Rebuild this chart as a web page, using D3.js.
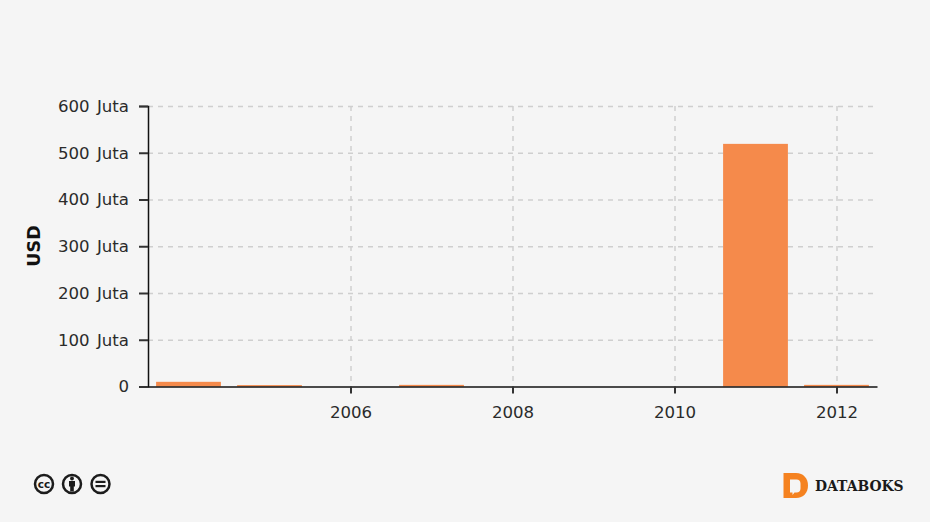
<!DOCTYPE html>
<html>
<head>
<meta charset="utf-8">
<script src="https://cdn.jsdelivr.net/npm/d3@7"></script>
<style>
  html, body { margin: 0; padding: 0; background: #f5f5f5; }
  svg { display: block; }
  text { font-family: "DejaVu Sans", sans-serif; }
</style>
</head>
<body>
<svg width="930" height="522"></svg>
<script>
// values, in million USD
var years = [2004, 2005, 2006, 2007, 2008, 2009, 2010, 2011, 2012];
var values = [10, 3, 0, 3.5, 0, 0, 0, 519, 3.5];
var yTicks = [0, 100, 200, 300, 400, 500, 600];
var xTicks = [2006, 2008, 2010, 2012];

var svg = d3.select("svg");
var margin = { top: 106, right: 53, bottom: 135.5, left: 148 };
var width = +svg.attr("width") - margin.left - margin.right;
var height = +svg.attr("height") - margin.top - margin.bottom;

var x = d3.scaleLinear().domain([2003.5, 2012.5]).range([0, width]);
var y = d3.scaleLinear().domain([0, 600]).range([height, 0]);

var g = svg.append("g").attr("transform", "translate(" + margin.left + "," + margin.top + ")");

// dashed grid, stops a little short of the axis end
g.append("g").selectAll("line").data(yTicks.slice(1)).enter().append("line")
  .attr("x1", 0).attr("x2", width - 4)
  .attr("y1", function(d) { return y(d) + 0.5; }).attr("y2", function(d) { return y(d) + 0.5; })
  .attr("stroke", "#cfcfcf").attr("stroke-width", 1.5).attr("stroke-dasharray", "5,5");

g.append("g").selectAll("line").data(xTicks).enter().append("line")
  .attr("x1", function(d) { return x(d) + 0.5; }).attr("x2", function(d) { return x(d) + 0.5; })
  .attr("y1", 0).attr("y2", height)
  .attr("stroke", "#cfcfcf").attr("stroke-width", 1.5).attr("stroke-dasharray", "5,5");

// bars
var barWidth = (x(2005) - x(2004)) * 0.8;
g.append("g").selectAll("rect").data(values).enter().append("rect")
  .attr("x", function(d, i) { return x(years[i]) - barWidth / 2; })
  .attr("y", function(d) { return y(d); })
  .attr("width", barWidth)
  .attr("height", function(d) { return height - y(d); })
  .attr("fill", "#f58a4b");

// axes
var yAxis = d3.axisLeft(y).tickValues(yTicks).tickSize(9).tickPadding(10)
  .tickFormat(function(d) { return d === 0 ? "0" : d + " Juta"; });
var xAxis = d3.axisBottom(x).tickValues(xTicks).tickSizeInner(7).tickSizeOuter(0).tickPadding(13)
  .tickFormat(d3.format("d"));

var yG = g.append("g").call(yAxis);
var xG = g.append("g").attr("transform", "translate(0," + height + ")").call(xAxis);

[yG, xG].forEach(function(a) {
  a.selectAll("path").attr("stroke", "#111").attr("stroke-width", 1.5);
  a.selectAll("line").attr("stroke", "#333").attr("stroke-width", 2);
  a.selectAll("text").attr("fill", "#2b2b2b").style("font-size", "16.6px").style("font-family", "DejaVu Sans");
});
yG.selectAll("text").style("word-spacing", "2px");

svg.append("text")
  .attr("transform", "translate(40,246) rotate(-90)")
  .attr("text-anchor", "middle")
  .attr("fill", "#111")
  .style("font-size", "17.5px").style("font-weight", "bold")
  .text("USD");

// licence icons, bottom left
var icons = svg.append("g").attr("fill", "none").attr("stroke", "#1c1c1c");
[44, 72, 100.5].forEach(function(cx) {
  icons.append("circle").attr("cx", cx).attr("cy", 484).attr("r", 9).attr("stroke-width", 2.5);
});
svg.append("text").attr("x", 44).attr("y", 488).attr("text-anchor", "middle")
  .attr("fill", "#1c1c1c").style("font-size", "10.5px").style("font-weight", "bold").text("cc");
svg.append("circle").attr("cx", 72).attr("cy", 478.5).attr("r", 1.9).attr("fill", "#1c1c1c");
svg.append("path").attr("d", "M69 481h6v5.500h-1.200v5h-3.600v-5h-1.200z").attr("fill", "#1c1c1c");
svg.append("rect").attr("x", 95.5).attr("y", 480.8).attr("width", 10).attr("height", 2.2).attr("fill", "#1c1c1c");
svg.append("rect").attr("x", 95.5).attr("y", 485).attr("width", 10).attr("height", 2.2).attr("fill", "#1c1c1c");

// databoks logo, bottom right
svg.append("path")
  .attr("d", "M783.5 473h12.500c7.500 0 12 5.500 12 12.500s-4.500 12.500-12 12.500h-12.500z")
  .attr("fill", "#f58220");
svg.append("path")
  .attr("d", "M790 479.500h6.500c2.500 0 4 1.500 4 4v5c0 2.500-1.500 4-4 4h-2l-2 2.500v-2.500h-2.500z")
  .attr("fill", "#f5f5f5");
svg.append("text").attr("x", 815).attr("y", 491)
  .attr("fill", "#1a1a1a")
  .style("font-family", "DejaVu Serif").style("font-size", "13.9px").style("font-weight", "bold")
  .text("DATABOKS");
</script>
</body>
</html>
